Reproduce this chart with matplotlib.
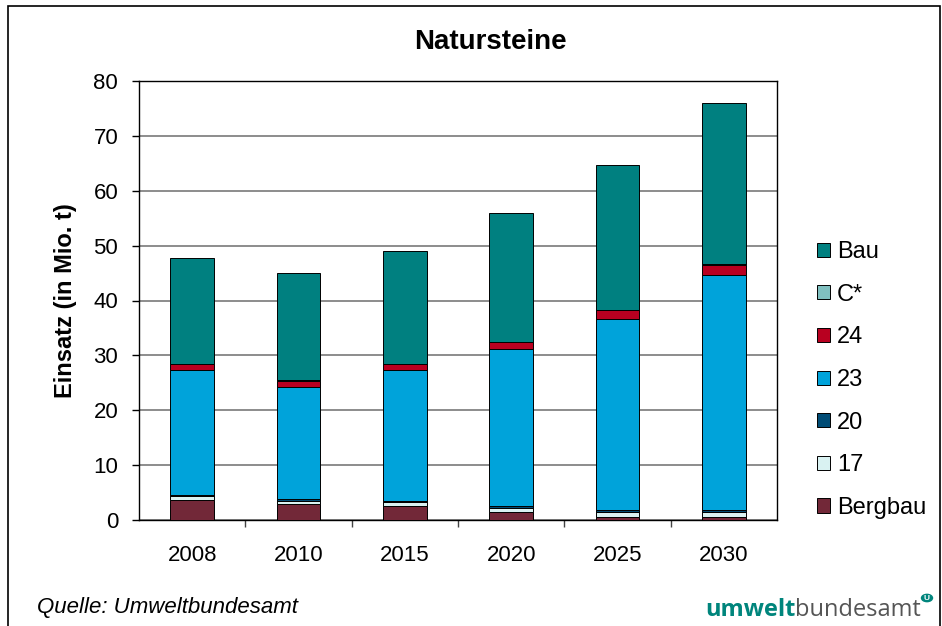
import matplotlib.pyplot as plt
import numpy as np
from matplotlib.patches import Rectangle, Circle

plt.rcParams["font.family"] = ["Liberation Sans", "DejaVu Sans"]

jahre = ["2008", "2010", "2015", "2020", "2025", "2030"]

# Einsatz in Mio. t, von unten nach oben gestapelt
bergbau = [3.6, 3.0, 2.55, 1.4, 0.5, 0.6]
wz17 = [0.8, 0.45, 0.65, 0.75, 0.9, 0.8]
wz20 = [0.2, 0.45, 0.3, 0.4, 0.35, 0.35]
wz23 = [22.7, 20.4, 23.8, 28.55, 34.85, 42.85]
wz24 = [1.1, 1.0, 1.1, 1.3, 1.6, 1.9]
c_stern = [0.1, 0.15, 0.1, 0.1, 0.1, 0.1]
bau = [19.2, 19.55, 20.6, 23.4, 26.4, 29.4]

serien = [
    ("Bergbau", bergbau, "#722838"),
    ("17", wz17, "#D9F2F2"),
    ("20", wz20, "#004C75"),
    ("23", wz23, "#00A3DA"),
    ("24", wz24, "#B80020"),
    ("C*", c_stern, "#80C0C0"),
    ("Bau", bau, "#008080"),
]

fig = plt.figure(figsize=(9.42, 6.26), dpi=100)
ax = fig.add_axes([139 / 942, 1 - 520 / 626, 638 / 942, 439 / 626])

x = np.arange(len(jahre))
unten = np.zeros(len(jahre))
handles = []
for name, werte, farbe in serien:
    b = ax.bar(x, werte, 0.41, bottom=unten, color=farbe, edgecolor="black",
               linewidth=0.7, label=name, zorder=3)
    handles.append(b)
    unten += np.array(werte)

ax.set_xlim(-0.5, len(jahre) - 0.5)
ax.set_ylim(0, 80)
ax.set_yticks(range(0, 81, 10))
ax.yaxis.grid(True, color="#8c8c8c", linewidth=1.4, zorder=0)
ax.set_axisbelow(True)

ax.set_xticks(x)
ax.set_xticklabels(jahre)
ax.set_xticks(np.arange(0.5, len(jahre) - 0.5, 1), minor=True)
ax.tick_params(axis="x", which="major", length=0, pad=18, labelsize=16)
ax.tick_params(axis="x", which="minor", length=5, width=1, color="#444444")
ax.tick_params(axis="y", length=5, width=1, pad=10, labelsize=16)

for s in ax.spines.values():
    s.set_color("black")
    s.set_linewidth(1.0)

ax.set_ylabel("Einsatz (in Mio. t)", fontsize=17, fontweight="bold", labelpad=12)
fig.text(490 / 942, 1 - 42 / 626, "Natursteine", fontsize=20, fontweight="bold",
         ha="center", va="center")

leg = fig.legend(handles[::-1], [s[0] for s in serien][::-1],
                 loc="upper left", bbox_to_anchor=(817 / 942, 1 - 241 / 626),
                 frameon=False, fontsize=17, handlelength=0.55, handleheight=0.55,
                 handletextpad=0.3, labelspacing=0.875, borderpad=0, borderaxespad=0)

fig.text(37 / 942, 1 - 608 / 626, "Quelle: Umweltbundesamt", fontsize=16,
         fontstyle="italic", va="center")

# Logo
t1 = fig.text(705 / 942, 1 - 616 / 626, "umwelt", fontsize=17, fontweight="bold",
              color="#00857C", family="Open Sans", va="baseline")
fig.canvas.draw()
bb = t1.get_window_extent()
fig.text(bb.x1 / 942, 1 - 616 / 626, "bundesamt", fontsize=17, color="#555555",
         family="Open Sans", va="baseline")
fig.patches.append(Circle((927 / 942, 1 - 598 / 626), 5.5 / 942, color="#00857C",
                          transform=fig.transFigure, figure=fig))
fig.text(927 / 942, 1 - 598 / 626, "U", fontsize=6, color="white", fontweight="bold",
         ha="center", va="center")

# Rahmen
fig.patches.append(Rectangle((8 / 942, -0.01), 932 / 942, 1.0 - 6 / 626 + 0.01,
                             fill=False, edgecolor="black", linewidth=1.2,
                             transform=fig.transFigure, figure=fig))

fig.savefig("out.png", dpi=100)
